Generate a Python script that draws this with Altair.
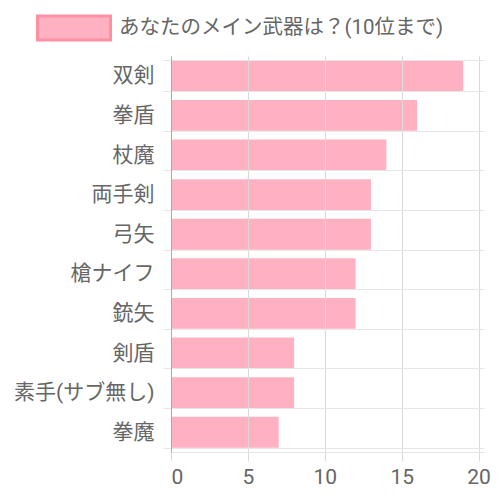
import altair as alt
import pandas as pd

categories = ["双剣", "拳盾", "杖魔", "両手剣", "弓矢", "槍ナイフ", "銃矢", "剣盾", "素手(サブ無し)", "拳魔"]
values = [19, 16, 14, 13, 13, 12, 12, 8, 8, 7]
series_name = "あなたのメイン武器は？(10位まで)"
x_ticks = [0, 5, 10, 15, 20]

df = pd.DataFrame({"weapon": categories, "count": values, "series": [series_name] * len(categories)})

font = "Roboto, Noto Sans CJK JP"

chart = alt.Chart(df).mark_bar().encode(
    x=alt.X("count:Q",
            scale=alt.Scale(domain=[0, 20.35], nice=False),
            axis=alt.Axis(values=x_ticks, title=None, grid=True, gridColor="#d9d9d9",
                          tickColor="#d9d9d9", tickSize=9, labelPadding=5,
                          domainColor="#e4e4e4", labelFontSize=21, labelColor="#666666",
                          labelFont=font, zindex=1)),
    y=alt.Y("weapon:N", sort=categories,
            scale=alt.Scale(paddingInner=0.22, paddingOuter=0.11),
            axis=alt.Axis(title=None, tickBand="extent", grid=True, gridColor="#e6e6e6",
                          tickColor="#e6e6e6", tickSize=8, labelPadding=9,
                          domainColor="#aaaaaa", labelFontSize=21, labelColor="#666666",
                          labelFont=font, zindex=1)),
    fill=alt.Fill("series:N", scale=alt.Scale(range=["#ffb1c1"]),
                  legend=alt.Legend(title=None, orient="none", legendX=-135, legendY=-66,
                                    symbolType="M-1,-0.33H1V0.33H-1Z", symbolSize=5329,
                                    symbolStrokeColor="#ff8fa3", symbolStrokeWidth=3,
                                    labelFontSize=20.5, labelColor="#666666", labelFont=font,
                                    labelOffset=7, padding=0, labelLimit=400)),
).properties(
    width=313,
    height=396,
    autosize=alt.AutoSizeParams(type="none"),
    padding={"left": 163, "top": 48, "right": 8, "bottom": 36},
).configure_view(stroke=None)

chart.save("out.html", embed_options={"renderer": "svg", "actions": False})
